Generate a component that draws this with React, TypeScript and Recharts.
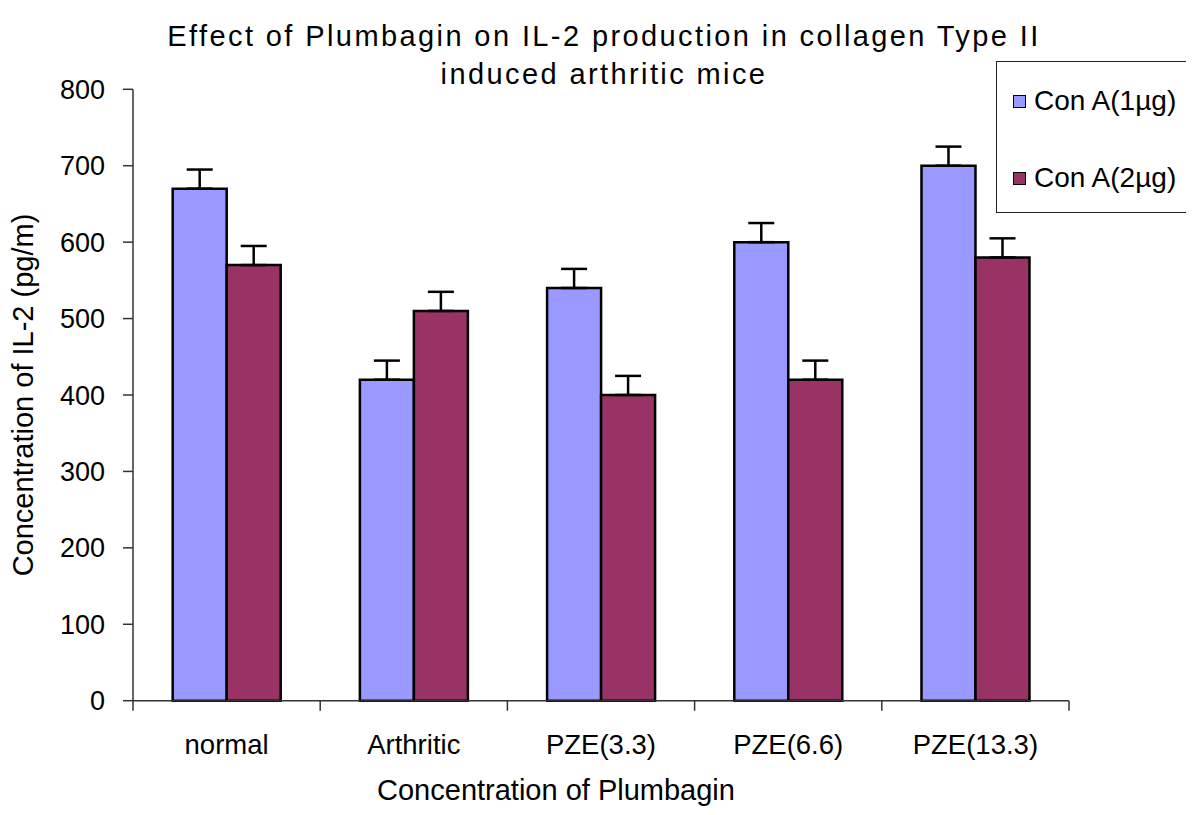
import React from 'react';
import { BarChart, Bar, XAxis, YAxis, ErrorBar, Legend, Label } from 'recharts';

const categories = ['normal', 'Arthritic', 'PZE(3.3)', 'PZE(6.6)', 'PZE(13.3)'];
const conA1 = [670, 420, 540, 600, 700];
const conA2 = [570, 510, 400, 420, 580];
const err1 = [25, 25, 25, 25, 25];
const err2 = [25, 25, 25, 25, 25];
const yTicks = [0, 100, 200, 300, 400, 500, 600, 700, 800];
const seriesNames = ['Con A(1µg)', 'Con A(2µg)'];
const titleLines = ['Effect of Plumbagin on IL-2 production in collagen Type II', 'induced arthritic mice'];
const xLabel = 'Concentration of Plumbagin';
const yLabel = 'Concentration of IL-2 (pg/m)';

const data = categories.map((c, i) => ({
  name: c,
  a1: conA1[i],
  a2: conA2[i],
  e1: [0, err1[i]],
  e2: [0, err2[i]],
}));

const FONT = '"Liberation Sans", Arial, sans-serif';
const AXIS = '#333';

const XTick = (props: any) => {
  const { x, y, payload } = props;
  const half = payload && payload.offset != null ? payload.offset : 0;
  const isLast = payload && payload.value === categories[categories.length - 1];
  return (
    <g>
      <line x1={x - half} x2={x - half} y1={y} y2={y + 10} stroke={AXIS} strokeWidth={1.5} />
      {isLast && <line x1={x + half} x2={x + half} y1={y} y2={y + 10} stroke={AXIS} strokeWidth={1.5} />}
      <text x={x} y={y + 53} textAnchor="middle" fontSize={27.5} fill="#000" fontFamily={FONT}>
        {payload.value}
      </text>
    </g>
  );
};

const LegendBox = (props: any) => {
  const payload = props.payload || [];
  return (
    <div
      style={{
        width: 190,
        height: 152,
        borderTop: '1.5px solid #222',
        borderLeft: '1.5px solid #222',
        borderBottom: '1.5px solid #222',
        boxSizing: 'border-box',
        position: 'relative',
        background: '#fff',
        fontFamily: FONT,
      }}
    >
      {payload.map((p: any, i: number) => (
        <div
          key={i}
          style={{
            position: 'absolute',
            left: 16,
            top: 23 + i * 77,
            display: 'flex',
            alignItems: 'center',
            height: 32,
            whiteSpace: 'nowrap',
          }}
        >
          <span
            style={{
              display: 'inline-block',
              width: 13,
              height: 13,
              background: p.color,
              border: '1.5px solid #000',
              boxSizing: 'border-box',
              marginRight: 8,
            }}
          />
          <span style={{ fontSize: 28, lineHeight: '32px', color: '#000' }}>{p.value}</span>
        </div>
      ))}
    </div>
  );
};

export default function App() {
  return (
    <div style={{ position: 'absolute', left: 0, top: 0, width: 1200, height: 815, overflow: 'hidden', background: '#fff' }}>
      <BarChart
        width={1200}
        height={815}
        data={data}
        margin={{ top: 89.3, right: 131, bottom: 54.3, left: 0 }}
        barCategoryGap="21.2%"
        barGap={0}
      >
        <YAxis
          width={133}
          domain={[0, 800]}
          ticks={yTicks}
          interval={0}
          tickSize={10}
          tickMargin={18}
          axisLine={{ stroke: AXIS, strokeWidth: 1.5 }}
          tickLine={{ stroke: AXIS, strokeWidth: 1.5 }}
          tick={{ fontSize: 27, fill: '#000', fontFamily: FONT }}
        >
          <Label
            content={(p: any) => {
              const vb = p.viewBox || { x: 0, y: 89.3, width: 133, height: 611.4 };
              const x = vb.x + 33;
              const y = vb.y + vb.height / 2;
              return (
                <text
                  x={x}
                  y={y}
                  transform={`rotate(-90, ${x}, ${y})`}
                  textAnchor="middle"
                  fontSize={29}
                  fontFamily={FONT}
                  fill="#000"
                >
                  {yLabel}
                </text>
              );
            }}
          />
        </YAxis>
        <XAxis
          dataKey="name"
          height={60}
          interval={0}
          tickSize={0}
          tickMargin={0}
          tickLine={false}
          axisLine={{ stroke: AXIS, strokeWidth: 1.5 }}
          tick={<XTick />}
        >
          <Label
            content={(p: any) => {
              const vb = p.viewBox || { x: 133, y: 700.7, width: 936, height: 60 };
              return (
                <text
                  x={vb.x + vb.width / 2 - 45}
                  y={vb.y + 99}
                  textAnchor="middle"
                  fontSize={29}
                  fontFamily={FONT}
                  fill="#000"
                >
                  {xLabel}
                </text>
              );
            }}
          />
        </XAxis>
        <Legend
          layout="horizontal"
          verticalAlign="middle"
          align="center"
          content={<LegendBox />}
          wrapperStyle={{ position: 'absolute', left: 996, top: 61, width: 190, height: 152 }}
        />
        <Bar dataKey="a1" name={seriesNames[0]} fill="#9999FF" stroke="#000" strokeWidth={2.5} isAnimationActive={false}>
          <ErrorBar dataKey="e1" width={13} stroke="#000" strokeWidth={2.5} direction="y" />
        </Bar>
        <Bar dataKey="a2" name={seriesNames[1]} fill="#993366" stroke="#000" strokeWidth={2.5} isAnimationActive={false}>
          <ErrorBar dataKey="e2" width={13} stroke="#000" strokeWidth={2.5} direction="y" />
        </Bar>
      </BarChart>
      <svg width={1200} height={100} style={{ position: 'absolute', left: 0, top: 0, pointerEvents: 'none' }}>
        {titleLines.map((t, i) => (
          <text
            key={i}
            x={604}
            y={46 + i * 38}
            textAnchor="middle"
            fontSize={29}
            fontFamily={FONT}
            letterSpacing={2.4}
            fill="#000"
          >
            {t}
          </text>
        ))}
      </svg>
    </div>
  );
}
